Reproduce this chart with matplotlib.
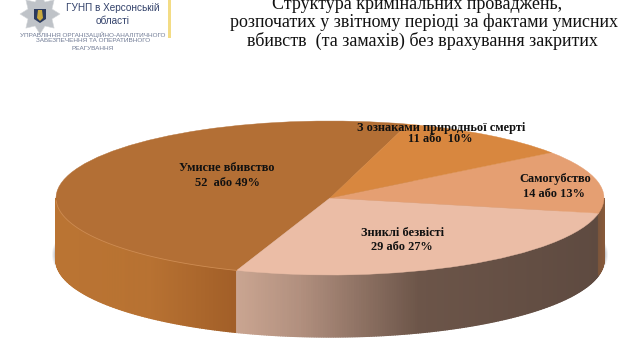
import numpy as np
import matplotlib
matplotlib.use('Agg')
import matplotlib.pyplot as plt
from matplotlib.patches import Ellipse, Polygon, Rectangle
from matplotlib.colors import to_rgb

labels = ['Умисне вбивство', 'Зниклі безвісті', 'Самогубство', 'З ознаками природньої смерті']
values = [52, 29, 14, 11]
shares = ['52  або 49%', '29 або 27%', '14 або 13%', '11 або  10%']
top_colors = ['#B36F35', '#EBBDA6', '#E59F72', '#D8873F']
title_lines = ['Структура кримінальних проваджень,',
               'розпочатих у звітному періоді за фактами умисних',
               'вбивств  (та замахів) без врахування закритих']
logo_head = ['ГУНП в Херсонській', 'області']
logo_sub = ['УПРАВЛІННЯ ОРГАНІЗАЦІЙНО-АНАЛІТИЧНОГО', 'ЗАБЕЗПЕЧЕННЯ ТА ОПЕРАТИВНОГО', 'РЕАГУВАННЯ']

W, H = 644, 354
CX, CY, RX, RY, DEPTH = 330, 198, 274, 77, 62
START = 73.5

fig = plt.figure(figsize=(W/100, H/100), dpi=100)
ax = fig.add_axes([0, 0, 1, 1])
wedges, _ = ax.pie(values, colors=top_colors, startangle=START, counterclock=True,
                   radius=1, center=(0, 0), wedgeprops=dict(linewidth=0.3, zorder=5))
for w, c in zip(wedges, top_colors):
    w.set_edgecolor(c)
ax.set_aspect('auto')
ax.set_xlim(-CX/RX, (W-CX)/RX)
ax.set_ylim((CY-H)/RY, CY/RY)
ax.axis('off')
d = DEPTH/RY


def px(x, y):
    return (x-CX)/RX, (CY-y)/RY


def lerp(stops, x):
    xs = [s[0] for s in stops]
    cs = np.array([to_rgb(s[1]) for s in stops])
    return [np.interp(x, xs, cs[:, k]) for k in range(3)]


# soft shadow peeking out at both ends of the drum
for grow, a in [(4, .08), (3, .12), (2, .16), (1, .22)]:
    ax.add_patch(Ellipse((0, -d+0.07), 2+2*grow/RX, 2, fc='#5A6470', ec='none', alpha=a, zorder=1))

side_stops = [
    [(56, '#BA7433'), (150, '#B87232'), (235, '#A25F28')],
    [(235, '#CBA692'), (300, '#B2907F'), (420, '#6C5549'), (600, '#5E4A40')],
    [(585, '#5E4A40'), (604, '#86593A')],
]


def draw_side(t1, t2, stops):
    n = max(int((t2-t1)*2), 2)
    ts = np.radians(np.linspace(t1, t2, n+1))
    for a, b in zip(ts[:-1], ts[1:]):
        x = [np.cos(a), np.cos(b), np.cos(b), np.cos(a)]
        y = [np.sin(a), np.sin(b), np.sin(b)-d, np.sin(a)-d]
        xm = CX + RX*(np.cos(a)+np.cos(b))/2
        c = lerp(stops, xm)
        ax.add_patch(Polygon(np.c_[x, y], closed=True, fc=c, ec=c, lw=1.0, zorder=3))


for w, stops in zip(wedges[:3], side_stops):
    t1 = max(w.theta1, 180)
    t2 = min(w.theta2, 360) if w.theta2 > 180 else 360
    if w.theta1 % 360 > 300:                # slice crossing the right-hand end
        t1, t2 = w.theta1 % 360, 360
    draw_side(t1, t2, stops)

# pale rim on the left of the top face
ts = np.radians(np.linspace(182, wedges[0].theta2, 80))
ax.plot(np.cos(ts), np.sin(ts), color='#CE8C52', lw=.6, zorder=6)

serif = ['Liberation Serif', 'DejaVu Serif']
sans = ['Liberation Sans', 'DejaVu Sans']
label_pos = [(227, 168, 183), (403, 233, 247), (555, 179, 194), (441, 128, 139)]
share_x = [227, 402, 554, 440]
for lab, sh, (x, y1, y2), x2 in zip(labels, shares, label_pos, share_x):
    ax.text(*px(x, y1), lab, family=serif, weight='bold', fontsize=8.9, ha='center', va='center', color='#111111', zorder=8)
    ax.text(*px(x2, y2), sh, family=serif, weight='bold', fontsize=8.9, ha='center', va='center', color='#111111', zorder=8)

for line, x, y in zip(title_lines, (417, 424, 422), (9, 27, 46)):
    ax.text(*px(x, y), line, family=serif, fontsize=13, ha='center', va='baseline', color='#111111', zorder=8)

# logo: badge star, trident shield, yellow rule
star_n = 8
ang = np.radians(np.arange(2*star_n)*180/star_n + 90)
rad = np.where(np.arange(2*star_n) % 2 == 0, 20, 13)
sx, sy = 40 + rad*np.cos(ang), 14 - rad*np.sin(ang)
ax.add_patch(Polygon(np.c_[*px(sx, sy)], fc='#BFC3C8', ec='#D5D8DB', lw=.4, zorder=7))
ax.add_patch(Polygon(np.c_[*px(np.array([34, 46, 46, 40, 34]), np.array([9, 9, 19, 23, 19]))], fc='#2B3A5E', ec='none', zorder=8))
ax.add_patch(Polygon(np.c_[*px(np.array([38, 42, 43, 40, 37]), np.array([10, 10, 18, 21, 18]))], fc='#C9A93E', ec='none', zorder=9))
ax.add_patch(Rectangle(px(168.5, 38), 2.2/RX, 38/RY, fc='#F3DC85', ec='none', zorder=8))

for t, y in zip(logo_head, (8, 21)):
    ax.text(*px(113, y), t, family=sans, fontsize=7.2, ha='center', va='center', color='#33426B', zorder=8)
for t, y in zip(logo_sub, (34.5, 41, 48)):
    ax.text(*px(93, y), t, family=sans, fontsize=4.6, ha='center', va='center', color='#6F7A94', zorder=8)

fig.savefig('out.png', dpi=100)
